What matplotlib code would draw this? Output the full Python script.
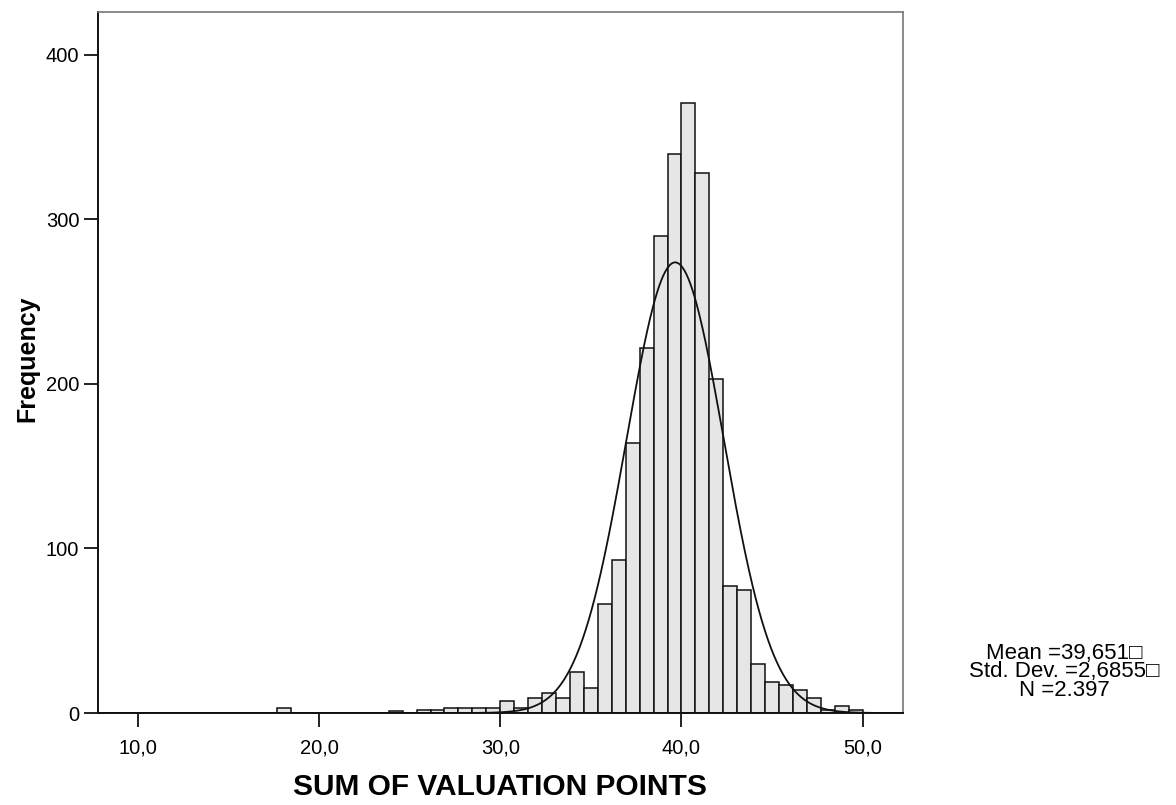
import numpy as np
import matplotlib
matplotlib.use("Agg")
import matplotlib.pyplot as plt

# ---- data ----
BIN_WIDTH = 10 / 13
FIRST_EDGE = 30 - 16 * (10 / 13)
counts = [3, 0, 0, 0, 0, 0, 0, 0, 1, 0,
          2, 2, 3, 3, 3, 3,
          7, 3, 9, 12, 9, 25, 15, 66, 93, 164, 222, 290, 340,
          371, 328, 203, 77, 75, 30, 19, 17, 14, 9, 2, 4, 2]
MEAN = 39.651
SD = 2.6855
N = 2397
xticks = [10, 20, 30, 40, 50]
xticklabels = ["10,0", "20,0", "30,0", "40,0", "50,0"]
yticks = [0, 100, 200, 300, 400]
stats_text = "Mean =39,651\u25a1\nStd. Dev. =2,6855\u25a1\nN =2.397"

plt.rcParams['font.family'] = ['Liberation Sans', 'DejaVu Sans']

fig = plt.figure(figsize=(11.76, 8.05), dpi=100)
ax = fig.add_axes([98 / 1176, 1 - 713 / 805, (903 - 98) / 1176, (713 - 12) / 805])

lefts = FIRST_EDGE + BIN_WIDTH * np.arange(len(counts))
cnt = np.array(counts)
mask = cnt > 0
ax.bar(lefts[mask], cnt[mask], width=BIN_WIDTH, align='edge',
       color='#e6e6e6', edgecolor='#111111', linewidth=1.1, zorder=2)

xlim = (7.81, 52.22)
xs = np.linspace(xlim[0], xlim[1], 800)
ys = N * BIN_WIDTH / (SD * np.sqrt(2 * np.pi)) * np.exp(-0.5 * ((xs - MEAN) / SD) ** 2)
ax.plot(xs, ys, color='#111111', linewidth=1.3, zorder=3)

ax.set_xlim(*xlim)
ax.set_ylim(0, 426.1)
ax.set_xticks(xticks)
ax.set_xticklabels(xticklabels)
ax.set_yticks(yticks)
ax.tick_params(axis='both', labelsize=14.5, width=1.3, length=10, color='#111111')
ax.tick_params(axis='x', pad=8.5)
ax.tick_params(axis='y', pad=3.5)

for side in ['left', 'bottom']:
    ax.spines[side].set_color('#111111')
    ax.spines[side].set_linewidth(1.4)
for side in ['top', 'right']:
    ax.spines[side].set_color('#777777')
    ax.spines[side].set_linewidth(1.2)

fig.text(500 / 1176, 1 - 787 / 805, "SUM OF VALUATION POINTS", ha='center', va='center',
         fontsize=21.5, fontweight='bold')
fig.text(27 / 1176, 1 - 359 / 805, "Frequency", ha='center', va='center',
         rotation=90, fontsize=18, fontweight='bold')

fig.text(1064 / 1176, 1 - 672 / 805, stats_text, ha='center', va='center',
         multialignment='center', fontsize=16, linespacing=0.85)

fig.savefig("out.png", dpi=100)
